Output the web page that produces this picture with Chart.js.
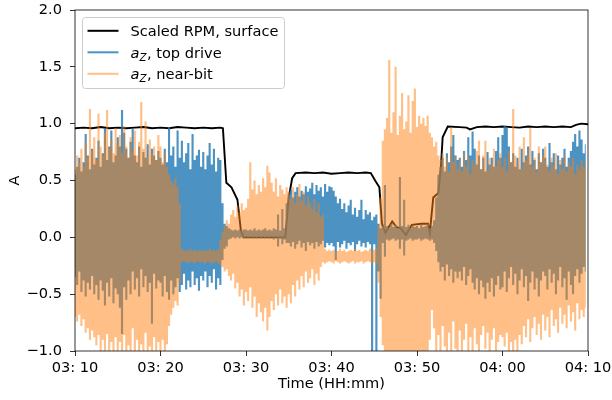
<!DOCTYPE html>
<html>
<head>
<meta charset="utf-8">
<script src="https://cdn.jsdelivr.net/npm/chart.js@4.4.0/dist/chart.umd.min.js"></script>
<style>
  html, body { margin: 0; padding: 0; background: #ffffff; }
  #wrap { width: 612px; height: 400px; }
</style>
</head>
<body>
<div id="wrap"><canvas id="chart" width="612" height="400"></canvas></div>
<script>
// Time axis: minutes after 03:10, one envelope sample every quarter minute.
const STEP = 0.25;

const xTickValues = [0, 10, 20, 30, 40, 50, 60];
const xTickLabels = ['03: 10', '03: 20', '03: 30', '03: 40', '03: 50', '04: 00', '04: 10'];
const yTickValues = [-1, -0.5, 0, 0.5, 1, 1.5, 2];
const yTickLabels = ['\u22121.0', '\u22120.5', '0.0', '0.5', '1.0', '1.5', '2.0'];

// Scaled surface RPM (time in minutes, value)
const rpmTime = [0, 1, 2, 3, 4, 5, 6, 7, 8, 9, 10, 11, 12, 13, 14, 15, 16, 17, 17.3, 17.7, 18.3, 19.0, 19.4, 19.7,
  24.6, 25.0, 25.4, 25.8, 27, 28, 29, 30, 31, 32, 33, 34, 34.6, 35.1, 35.6, 35.9, 36.3, 37.1, 37.6, 38.1, 38.7,
  39.4, 40.5, 41.3, 41.5, 41.9, 42.5, 42.8, 43.0, 43.6, 45, 45.8, 46.2, 47, 48, 49, 50, 51, 52, 53, 54, 55, 56,
  57, 58, 58.6, 59.2, 60];
const rpmValue = [0.96, 0.965, 0.96, 0.97, 0.96, 0.965, 0.96, 0.965, 0.97, 0.96, 0.965, 0.96, 0.97, 0.965, 0.96, 0.965, 0.96, 0.965, 0.96, 0.48, 0.44, 0.33, 0.06, 0.0,
  0.0, 0.35, 0.52, 0.565, 0.57, 0.565, 0.57, 0.56, 0.565, 0.57, 0.565, 0.57, 0.565, 0.5, 0.44, 0.12, 0.04, 0.14, 0.09, 0.08, 0.02,
  0.11, 0.12, 0.12, 0.04, 0.35, 0.39, 0.62, 0.88, 0.975, 0.97, 0.965, 0.95, 0.97, 0.975, 0.97, 0.975, 0.97, 0.965, 0.975, 0.97, 0.975, 0.97,
  0.975, 0.97, 0.99, 1.0, 0.995];

// a_Z top drive: per-sample maximum and minimum
const topDriveMax = [
  0.55,0.62,0.70,0.58,0.66,0.91,0.72,0.60,0.78,0.64,0.70,0.85,0.62,0.74,0.96,0.68,0.80,0.94,0.66,0.72,
  0.88,0.80,1.12,0.92,0.78,0.70,0.84,0.96,0.72,0.66,0.80,0.62,0.75,0.70,0.82,0.64,0.78,0.72,0.68,0.76,
  0.70,0.64,0.78,0.66,0.97,0.72,0.80,0.62,0.94,0.70,0.85,0.66,0.74,0.83,0.60,0.91,0.68,0.72,0.77,0.62,
  0.75,0.60,0.72,0.83,0.64,0.78,0.58,0.70,0.68,0.30,0.12,0.10,0.08,0.07,0.06,0.07,0.06,0.07,0.06,0.07,
  0.07,0.06,0.07,0.06,0.08,0.06,0.07,0.06,0.07,0.08,0.06,0.07,0.06,0.08,0.07,0.20,0.06,0.25,0.08,0.30,
  0.38,0.42,0.35,0.40,0.44,0.36,0.41,0.38,0.45,0.40,0.43,0.48,0.38,0.46,0.41,0.44,0.36,0.47,0.40,0.45,
  0.44,0.41,0.36,0.30,0.34,0.25,0.30,0.22,0.28,0.33,0.20,0.26,0.18,0.24,0.33,0.16,0.24,0.20,0.22,0.15,
  0.18,0.20,0.12,0.08,0.10,0.46,0.10,0.08,0.12,0.09,0.11,0.08,0.53,0.10,0.33,0.09,0.11,0.08,0.10,0.09,
  0.10,0.08,0.11,0.09,0.10,0.12,0.08,0.10,0.15,0.35,0.55,0.62,0.70,0.58,0.74,0.66,0.80,0.90,0.72,0.68,
  0.70,0.62,0.76,0.68,0.88,0.72,0.93,0.78,0.64,0.72,0.60,0.70,0.58,0.75,0.64,0.70,0.62,0.76,0.88,0.70,
  0.90,0.98,0.97,0.80,0.66,0.74,0.62,0.70,0.60,0.78,0.66,0.72,0.80,0.64,0.76,0.68,0.60,0.74,0.66,0.78,
  0.70,0.62,0.83,0.66,0.74,0.60,0.72,0.64,0.70,0.78,0.62,0.70,0.76,0.84,0.91,0.80,0.94,0.86,0.74,0.82
];
const topDriveMin = [
  -0.35,-0.42,-0.30,-0.48,-0.38,-0.52,-0.40,-0.46,-0.34,-0.50,-0.42,-0.55,-0.38,-0.47,-0.60,-0.40,-0.52,-0.36,-0.58,-0.45,
  -0.50,-0.62,-0.85,-0.44,-0.55,-0.38,-0.50,-0.30,-0.46,-0.36,-0.52,-0.28,-0.44,-0.34,-0.48,-0.40,-0.76,-0.32,-0.45,-0.38,
  -0.40,-0.52,-0.34,-0.48,-0.55,-0.38,-0.50,-0.44,-0.36,-0.48,-0.42,-0.32,-0.46,-0.38,-0.44,-0.30,-0.42,-0.36,-0.47,-0.34,
  -0.38,-0.30,-0.44,-0.34,-0.40,-0.28,-0.46,-0.36,-0.42,-0.20,-0.10,-0.08,-0.02,-0.01,0.00,-0.01,0.00,-0.01,0.00,-0.01,
  0.00,-0.01,0.00,-0.01,0.00,-0.01,0.00,-0.01,0.00,-0.01,0.00,-0.01,0.00,-0.02,0.00,-0.08,-0.01,-0.06,-0.02,-0.05,
  -0.05,-0.08,-0.04,-0.10,-0.06,-0.03,-0.09,-0.05,-0.12,-0.04,-0.07,-0.05,-0.10,-0.04,-0.08,-0.06,-0.03,-0.09,-0.05,-0.07,
  -0.05,-0.08,-0.20,-0.04,-0.09,-0.06,-0.03,-0.10,-0.05,-0.07,-0.04,-0.12,-0.06,-0.03,-0.08,-0.05,-0.09,-0.04,-0.06,-1.05,
  -0.06,-1.05,-0.30,-0.54,-0.05,-0.17,-0.02,-0.03,-0.02,-0.01,-0.03,-0.02,-0.10,-0.02,-0.16,-0.03,-0.02,-0.01,-0.03,-0.02,
  -0.02,-0.01,-0.03,-0.02,-0.01,-0.02,-0.03,-0.02,-0.05,-0.12,-0.22,-0.30,-0.26,-0.38,-0.24,-0.34,-0.28,-0.40,-0.30,-0.36,
  -0.30,-0.38,-0.26,-0.42,-0.34,-0.28,-0.40,-0.46,-0.36,-0.50,-0.38,-0.44,-0.54,-0.40,-0.48,-0.36,-0.52,-0.42,-0.34,-0.46,
  -0.44,-0.30,-0.48,-0.36,-0.26,-0.42,-0.32,-0.50,-0.38,-0.28,-0.44,-0.34,-0.56,-0.40,-0.30,-0.46,-0.36,-0.52,-0.38,-0.30,
  -0.34,-0.46,-0.28,-0.40,-0.32,-0.50,-0.38,-0.26,-0.44,-0.36,-0.55,-0.30,-0.42,-0.50,-0.34,-0.28,-0.40,-0.32,-0.26,-0.30
];

// a_Z near-bit: per-sample maximum and minimum
const nearBitMax = [
  0.60,0.72,0.66,0.78,0.62,0.84,0.70,1.13,0.76,0.88,0.68,1.09,0.80,0.72,0.92,1.12,0.78,0.86,0.74,0.96,
  0.82,0.90,0.74,0.98,0.80,0.70,0.88,0.76,0.94,0.72,0.84,1.19,0.78,1.02,0.70,0.86,0.74,0.80,0.68,0.90,
  0.80,0.66,0.74,0.62,0.55,0.50,0.46,0.52,0.44,0.30,-0.10,-0.12,-0.11,-0.12,-0.10,-0.12,-0.11,-0.12,-0.11,-0.12,
  -0.12,-0.11,-0.12,-0.10,-0.12,-0.11,-0.12,-0.11,-0.02,0.05,0.10,0.15,0.12,0.20,0.24,0.18,0.28,0.22,0.30,0.24,
  0.26,0.34,0.66,0.42,0.50,0.38,0.46,0.40,0.52,0.44,0.63,0.57,0.48,0.40,0.52,0.36,0.46,0.42,0.38,0.44,
  0.40,0.34,0.44,0.30,0.38,0.47,0.32,0.40,0.28,0.36,0.30,0.25,0.34,0.22,0.30,0.18,0.20,-0.10,-0.12,-0.11,
  -0.12,-0.11,-0.13,-0.12,-0.10,-0.12,-0.11,-0.13,-0.12,-0.11,-0.12,-0.10,-0.12,-0.11,-0.13,-0.12,-0.11,-0.12,-0.10,-0.12,
  -0.11,-0.10,0.10,0.35,0.85,0.95,1.05,1.56,0.92,1.10,1.50,0.90,1.07,1.27,0.95,1.02,1.25,0.92,1.20,1.31,
  0.97,1.07,1.00,1.05,0.98,1.07,0.92,0.88,0.80,0.84,0.72,0.68,0.74,0.62,0.70,0.58,0.97,0.66,0.72,0.60,
  0.66,0.58,0.74,0.62,0.70,0.56,0.68,0.64,0.76,0.85,0.60,0.72,0.85,0.58,0.70,0.64,0.78,0.62,0.68,0.74,
  0.62,0.70,0.58,0.76,0.66,1.13,0.72,0.64,0.80,0.60,0.88,0.68,0.74,0.96,0.62,0.70,0.58,0.80,0.66,0.72,
  0.80,0.64,0.58,0.70,0.62,0.74,0.56,0.68,0.60,0.72,0.58,0.66,0.62,0.70,0.56,0.64,0.60,0.68,0.62,0.66
];
const nearBitMin = [
  -0.70,-0.74,-0.68,-0.78,-0.72,-0.84,-0.80,-0.90,-0.82,-0.88,-0.95,-0.86,-1.02,-0.90,-1.05,-0.85,-1.02,-0.92,-1.05,-0.88,
  -1.05,-0.92,-1.04,-0.86,-1.05,-0.95,-1.03,-0.80,-1.05,-0.90,-1.02,-0.94,-1.05,-0.84,-1.04,-0.96,-1.05,-0.88,-1.03,-0.92,
  -1.04,-0.90,-1.05,-0.94,-0.78,-0.68,-0.62,-0.56,-0.60,-0.40,-0.22,-0.21,-0.22,-0.23,-0.21,-0.22,-0.23,-0.21,-0.22,-0.22,
  -0.22,-0.23,-0.21,-0.22,-0.23,-0.22,-0.21,-0.23,-0.24,-0.26,-0.30,-0.28,-0.34,-0.38,-0.32,-0.45,-0.40,-0.52,-0.46,-0.60,
  -0.48,-0.56,-0.44,-0.62,-0.52,-0.70,-0.58,-0.66,-0.74,-0.62,-0.82,-0.70,-0.56,-0.64,-0.50,-0.60,-0.46,-0.58,-0.52,-0.62,
  -0.50,-0.58,-0.42,-0.52,-0.38,-0.46,-0.34,-0.44,-0.30,-0.40,-0.36,-0.28,-0.42,-0.32,-0.38,-0.26,-0.22,-0.23,-0.22,-0.21,
  -0.22,-0.23,-0.21,-0.22,-0.23,-0.22,-0.21,-0.22,-0.23,-0.22,-0.21,-0.23,-0.22,-0.22,-0.21,-0.23,-0.22,-0.21,-0.22,-0.23,
  -0.22,-0.23,-0.40,-0.70,-0.95,-1.05,-1.04,-1.05,-1.05,-1.04,-1.05,-1.05,-1.04,-1.05,-1.05,-1.04,-1.05,-1.05,-1.04,-1.05,
  -1.05,-1.04,-1.05,-1.05,-1.04,-1.05,-0.90,-0.64,-0.80,-1.02,-0.86,-1.04,-0.78,-0.96,-1.05,-0.84,-1.02,-0.74,-0.98,-1.05,
  -0.82,-1.04,-0.90,-0.76,-1.02,-0.88,-1.05,-0.80,-0.94,-1.03,-0.86,-0.78,-0.98,-0.84,-1.04,-0.90,-0.80,-1.02,-0.92,-0.86,
  -0.88,-0.96,-0.84,-1.03,-0.92,-1.05,-0.90,-1.04,-0.86,-0.94,-0.78,-0.88,-0.72,-0.92,-0.80,-0.70,-0.86,-0.76,-0.90,-0.68,
  -0.82,-0.70,-0.88,-0.64,-0.78,-0.72,-0.84,-0.62,-0.76,-0.68,-0.80,-0.60,-0.74,-0.66,-0.82,-0.58,-0.72,-0.64,-0.70,-0.62
];

const sampled = (arr) => arr.map((v, i) => ({ x: i * STEP, y: v }));
const rpmPoints = rpmTime.map((t, i) => ({ x: t, y: rpmValue[i] }));

const RPM_COLOR = '#000000';
const TOP_COLOR = 'rgba(31,119,180,0.8)';
const BIT_COLOR = 'rgba(255,127,14,0.5)';

const FONT = '"DejaVu Sans", "Liberation Sans", sans-serif';
const FONT_SIZE = 14.6;
Chart.defaults.font.family = FONT;
Chart.defaults.font.size = FONT_SIZE;
Chart.defaults.color = '#000000';

// Legend rows: line colour plus pieces of text (italic / subscript where needed)
const legendRows = [
  { color: RPM_COLOR, pieces: [{ text: 'Scaled RPM, surface' }] },
  { color: TOP_COLOR, pieces: [{ text: 'a', italic: true }, { text: 'Z', italic: true, sub: true }, { text: ', top drive' }] },
  { color: BIT_COLOR, pieces: [{ text: 'a', italic: true }, { text: 'Z', italic: true, sub: true }, { text: ', near-bit' }] }
];

const framePlugin = {
  id: 'frame',
  afterDatasetsDraw(chart) {
    const { ctx, chartArea: a } = chart;
    ctx.save();
    ctx.strokeStyle = '#000000';
    ctx.lineWidth = 0.8;
    ctx.strokeRect(a.left, a.top, a.right - a.left, a.bottom - a.top);
    ctx.restore();
  }
};

const boxLegendPlugin = {
  id: 'boxLegend',
  afterDraw(chart) {
    const { ctx, chartArea: a } = chart;
    const bx = a.left + 7.5, by = a.top + 7.5, bw = 202, bh = 71;
    ctx.save();
    ctx.beginPath();
    ctx.roundRect(bx, by, bw, bh, 3);
    ctx.fillStyle = 'rgba(255,255,255,0.8)';
    ctx.fill();
    ctx.strokeStyle = '#cccccc';
    ctx.lineWidth = 1;
    ctx.stroke();

    legendRows.forEach((row, i) => {
      const cy = by + 13.3 + i * 21.5;
      ctx.beginPath();
      ctx.moveTo(bx + 5, cy);
      ctx.lineTo(bx + 36, cy);
      ctx.strokeStyle = row.color;
      ctx.lineWidth = 2;
      ctx.stroke();

      let x = bx + 48;
      const base = cy + 5.2;
      ctx.fillStyle = '#000000';
      ctx.textBaseline = 'alphabetic';
      ctx.textAlign = 'left';
      row.pieces.forEach(p => {
        const size = p.sub ? FONT_SIZE * 0.7 : FONT_SIZE;
        ctx.font = (p.italic ? 'italic ' : '') + size + 'px ' + FONT;
        ctx.fillText(p.text, x, p.sub ? base + 3.2 : base);
        x += ctx.measureText(p.text).width + (p.sub ? 0.5 : 0);
      });
    });
    ctx.restore();
  }
};

// Envelope band edge: each sample holds its level across its own time slot.
const band = (label, data, color, fill, order) => ({
  label, data, fill,
  backgroundColor: color,
  borderColor: 'transparent',
  borderWidth: 0,
  pointRadius: 0,
  stepped: 'middle',
  clip: 0,
  order
});

// Keep the plot frame fixed: no extra room reserved for edge tick labels.
const noEdgePadding = (s) => {
  s.paddingTop = 0; s.paddingBottom = 0; s.paddingLeft = 0; s.paddingRight = 0;
};

new Chart(document.getElementById('chart'), {
  type: 'line',
  data: {
    datasets: [
      {
        label: 'Scaled RPM, surface',
        data: rpmPoints,
        borderColor: RPM_COLOR,
        borderWidth: 1.9,
        pointRadius: 0,
        tension: 0,
        fill: false,
        clip: 0,
        order: 3
      },
      band('a_Z, top drive', sampled(topDriveMax), TOP_COLOR, '+1', 2),
      band('a_Z, top drive (min)', sampled(topDriveMin), TOP_COLOR, false, 2),
      band('a_Z, near-bit', sampled(nearBitMax), BIT_COLOR, '+1', 1),
      band('a_Z, near-bit (min)', sampled(nearBitMin), BIT_COLOR, false, 1)
    ]
  },
  options: {
    responsive: false,
    animation: false,
    devicePixelRatio: 1,
    events: [],
    layout: { padding: { left: 0, top: 10, right: 24, bottom: 0 } },
    plugins: {
      legend: { display: false },
      tooltip: { enabled: false },
      filler: { propagate: false }
    },
    scales: {
      x: {
        type: 'linear',
        min: 0,
        max: 60,
        afterBuildTicks: (s) => { s.ticks = xTickValues.map(v => ({ value: v })); },
        ticks: {
          autoSkip: false,
          maxRotation: 0,
          padding: 3,
          color: '#000000',
          callback: (v) => xTickLabels[xTickValues.indexOf(v)]
        },
        grid: { display: true, drawOnChartArea: false, drawTicks: true, tickLength: 5, color: '#000000', lineWidth: 0.8 },
        border: { display: false },
        title: { display: true, text: 'Time (HH:mm)', color: '#000000', padding: { top: 0, bottom: 7 } },
        afterFit: (s) => { s.height = 49; noEdgePadding(s); }
      },
      y: {
        type: 'linear',
        min: -1,
        max: 2,
        afterBuildTicks: (s) => { s.ticks = yTickValues.map(v => ({ value: v })); },
        ticks: {
          autoSkip: false,
          padding: 8,
          color: '#000000',
          callback: (v) => yTickLabels[yTickValues.indexOf(v)]
        },
        grid: { display: true, drawOnChartArea: false, drawTicks: true, tickLength: 5, color: '#000000', lineWidth: 0.8 },
        border: { display: false },
        title: { display: true, text: 'A', color: '#000000', padding: { top: 6, bottom: 0 } },
        afterFit: (s) => { s.width = 75; noEdgePadding(s); }
      }
    }
  },
  plugins: [framePlugin, boxLegendPlugin]
});
</script>
</body>
</html>
